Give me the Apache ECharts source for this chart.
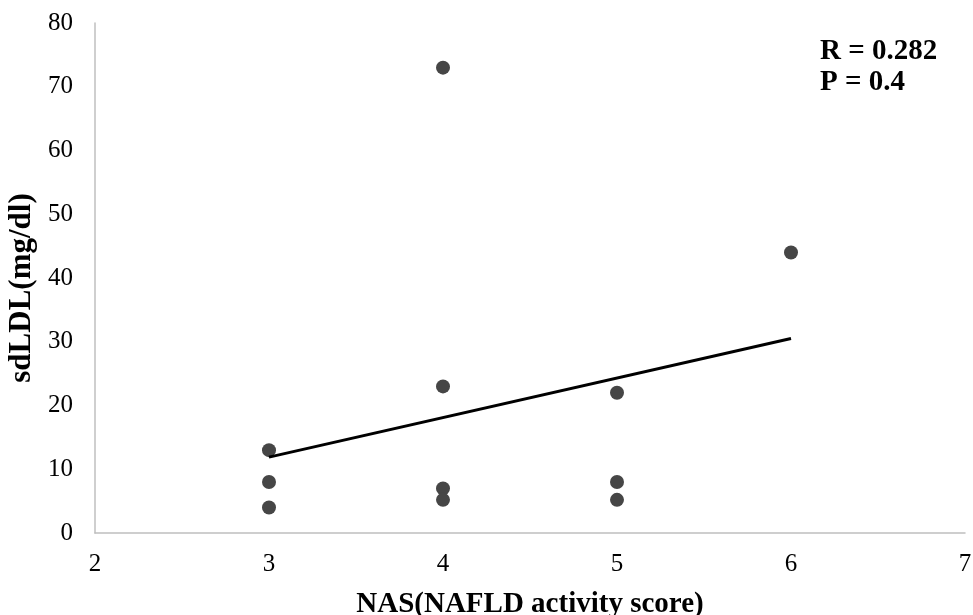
<!DOCTYPE html>
<html>
<head>
    <meta charset="UTF-8">
    <title>sdLDL vs NAS</title>
    <script src="https://cdn.jsdelivr.net/npm/echarts/dist/echarts.min.js"></script>
    <style>
        html, body { margin: 0; padding: 0; background: #fff; }
        #chart { width: 973px; height: 615px; }
    </style>
</head>
<body>
    <div id="chart"></div>
    <script type="text/javascript">
        // points
        var nasScore = [3, 3, 3, 4, 4, 4, 4, 5, 5, 5, 6];
        var sdLDL = [13, 8, 4, 73, 23, 7, 5.2, 22, 8, 5.2, 44];

        // linear trend line ends
        var trendX = [3, 6];
        var trendY = [11.9, 30.5];

        var statLines = ['R = 0.282', 'P = 0.4'];

        var serif = '"Liberation Serif", "Times New Roman", serif';

        var points = nasScore.map(function (x, i) { return [x, sdLDL[i]]; });
        var trend = trendX.map(function (x, i) { return [x, trendY[i]]; });

        var myChart = echarts.init(document.getElementById('chart'));

        var option = {
            backgroundColor: '#fff',
            animation: false,
            grid: { left: 95, right: 8, top: 23, bottom: 82, outerBoundsMode: 'none', containLabel: false },
            xAxis: {
                type: 'value',
                min: 2, max: 7, interval: 1,
                name: 'NAS(NAFLD activity score)',
                nameLocation: 'middle',
                nameGap: 57,
                nameTextStyle: { fontFamily: serif, fontWeight: 'bold', fontSize: 29, color: '#000' },
                axisLine: { show: true, lineStyle: { color: '#bfbfbf', width: 1.5 } },
                axisTick: { show: false },
                splitLine: { show: false },
                axisLabel: { fontFamily: serif, fontSize: 25, color: '#000', margin: 19 }
            },
            yAxis: {
                type: 'value',
                min: 0, max: 80, interval: 10,
                name: 'sdLDL(mg/dl)',
                nameLocation: 'middle',
                nameRotate: 90,
                nameGap: 53,
                nameTextStyle: {
                    fontFamily: serif, fontWeight: 'bold', fontSize: 31, color: '#000',
                    padding: [0, 20, 0, 0]
                },
                axisLine: { show: true, lineStyle: { color: '#bfbfbf', width: 1.5 } },
                axisTick: { show: false },
                splitLine: { show: false },
                axisLabel: { fontFamily: serif, fontSize: 25, color: '#000', margin: 22 }
            },
            graphic: [
                {
                    type: 'text',
                    left: 820, top: 36,
                    style: {
                        text: statLines.join('\n'),
                        font: 'bold 29px ' + serif,
                        fill: '#000',
                        lineHeight: 31
                    }
                }
            ],
            series: [
                {
                    type: 'line',
                    data: trend,
                    symbol: 'none',
                    lineStyle: { color: '#000', width: 3 },
                    z: 3
                },
                {
                    type: 'scatter',
                    data: points,
                    symbolSize: 14,
                    itemStyle: { color: '#464646', opacity: 1 },
                    z: 2
                }
            ]
        };

        myChart.setOption(option);
    </script>
</body>
</html>
